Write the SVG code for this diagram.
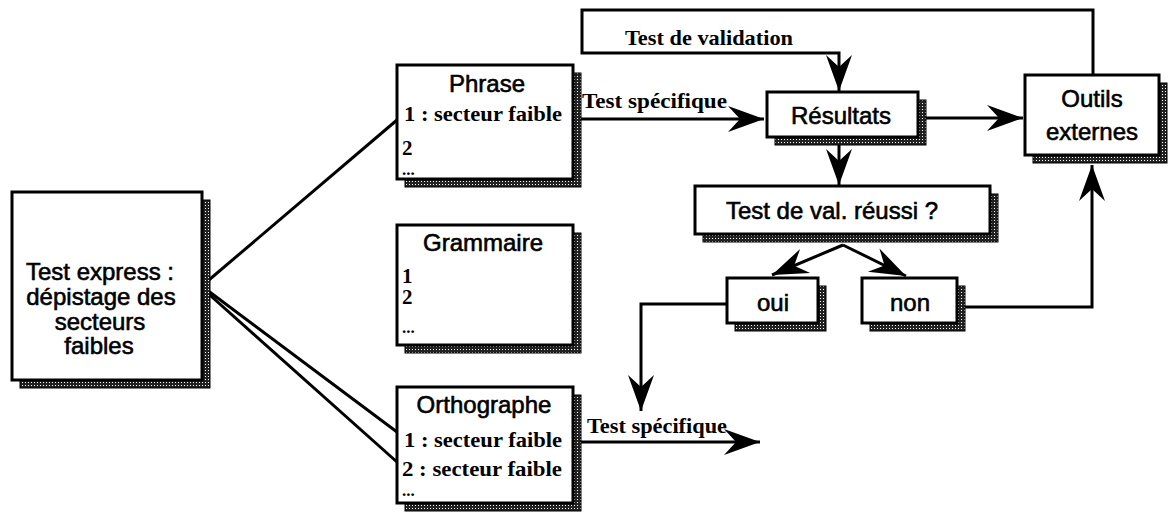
<svg xmlns="http://www.w3.org/2000/svg" width="1168" height="515" viewBox="0 0 1168 515">
<defs>
<pattern id="dith" width="3" height="3" patternUnits="userSpaceOnUse">
<rect width="3" height="3" fill="#222"/>
<rect x="1" y="1" width="1" height="1" fill="#fff"/>
</pattern>
<marker id="ah" viewBox="-38 -15 40 30" refX="0" refY="0" markerWidth="40" markerHeight="30" markerUnits="userSpaceOnUse" orient="auto">
<path d="M0,0 L-36,-13 L-24,0 L-36,13 Z" fill="#000"/>
</marker>
</defs>
<style>
.sh{fill:url(#dith);stroke:#000;stroke-width:1}
.bx{fill:#fff;stroke:#000;stroke-width:3}
.sans{font-family:"Liberation Sans",Arial,sans-serif;font-size:24px;fill:#000;stroke:#000;stroke-width:0.6}
.ser{font-family:"Liberation Serif","Times New Roman",serif;font-weight:bold;font-size:21px;fill:#000}
.dots{font-family:"Liberation Serif","Times New Roman",serif;font-weight:bold;font-size:17px;fill:#000}
.lab{font-family:"Liberation Serif","Times New Roman",serif;font-weight:bold;font-size:22px;fill:#000}
.ln{fill:none;stroke:#000;stroke-width:3}
.la{fill:none;stroke:#000;stroke-width:3;marker-end:url(#ah)}
</style>
<rect width="1168" height="515" fill="#fff"/>

<g id="connectors">
<line class="ln" x1="203" y1="285" x2="397" y2="120"/>
<line class="ln" x1="203" y1="287" x2="397" y2="432"/>
<line class="ln" x1="203" y1="289" x2="397" y2="462"/>
<line class="la" x1="581" y1="119" x2="764" y2="119"/>
<line class="la" x1="581" y1="442" x2="760" y2="442"/>
<polyline class="la" points="1093,75 1093,10 582,10 582,53 839,53 839,91"/>
<line class="la" x1="926" y1="118" x2="1023" y2="118"/>
<line class="la" x1="839" y1="145" x2="839" y2="185"/>
<line class="la" x1="843" y1="245" x2="772" y2="275"/>
<line class="la" x1="843" y1="245" x2="906" y2="276"/>
<polyline class="la" points="728,304 641,304 641,411"/>
<polyline class="la" points="965,307 1092,307 1092,165"/>
</g>

<g id="test-express">
<rect class="sh" x="20" y="200" width="190" height="188"/>
<rect class="bx" x="12" y="192" width="190" height="188"/>
<text class="sans" text-anchor="middle" x="100" y="280">Test express :</text>
<text class="sans" text-anchor="middle" x="101" y="305">dépistage des</text>
<text class="sans" text-anchor="middle" x="100" y="330">secteurs</text>
<text class="sans" text-anchor="middle" x="99" y="354">faibles</text>
</g>

<g id="phrase">
<rect class="sh" x="405" y="73" width="176" height="114"/>
<rect class="bx" x="397" y="65" width="176" height="114"/>
<text class="sans" text-anchor="middle" x="487" y="92">Phrase</text>
<text class="ser" x="404" y="121" textLength="158" lengthAdjust="spacingAndGlyphs">1 : secteur faible</text>
<text class="ser" x="402" y="155">2</text>
<text class="dots" x="402" y="175">...</text>
</g>

<g id="grammaire">
<rect class="sh" x="405" y="233" width="176" height="120"/>
<rect class="bx" x="397" y="225" width="176" height="120"/>
<text class="sans" text-anchor="middle" x="483" y="251">Grammaire</text>
<text class="ser" x="402" y="283">1</text>
<text class="ser" x="402" y="304">2</text>
<text class="dots" x="402" y="333">...</text>
</g>

<g id="orthographe">
<rect class="sh" x="405" y="395" width="176" height="116"/>
<rect class="bx" x="397" y="387" width="176" height="116"/>
<text class="sans" text-anchor="middle" x="484" y="413">Orthographe</text>
<text class="ser" x="404" y="447" textLength="158" lengthAdjust="spacingAndGlyphs">1 : secteur faible</text>
<text class="ser" x="402" y="476" textLength="160" lengthAdjust="spacingAndGlyphs">2 : secteur faible</text>
<text class="dots" x="402" y="496">...</text>
</g>

<g id="resultats">
<rect class="sh" x="775" y="100" width="151" height="45"/>
<rect class="bx" x="767" y="92" width="151" height="45"/>
<text class="sans" text-anchor="middle" x="841" y="124">Résultats</text>
</g>

<g id="outils">
<rect class="sh" x="1033" y="83" width="134" height="80"/>
<rect class="bx" x="1025" y="75" width="134" height="80"/>
<text class="sans" text-anchor="middle" x="1092" y="107">Outils</text>
<text class="sans" text-anchor="middle" x="1092" y="140">externes</text>
</g>

<g id="test-val">
<rect class="sh" x="703" y="194" width="295" height="48"/>
<rect class="bx" x="695" y="186" width="295" height="48"/>
<text class="sans" text-anchor="middle" x="832" y="219">Test de val. réussi ?</text>
</g>

<g id="oui">
<rect class="sh" x="735" y="286" width="91" height="45"/>
<rect class="bx" x="727" y="278" width="91" height="45"/>
<text class="sans" text-anchor="middle" x="773" y="311">oui</text>
</g>

<g id="non">
<rect class="sh" x="870" y="286" width="95" height="45"/>
<rect class="bx" x="862" y="278" width="95" height="45"/>
<text class="sans" text-anchor="middle" x="910" y="311">non</text>
</g>

<g id="labels">
<text class="lab" x="582" y="108" textLength="145" lengthAdjust="spacingAndGlyphs">Test spécifique</text>
<text class="lab" x="587" y="433" textLength="140" lengthAdjust="spacingAndGlyphs">Test spécifique</text>
<text class="lab" x="625" y="45" textLength="168" lengthAdjust="spacingAndGlyphs">Test de validation</text>
</g>
</svg>
